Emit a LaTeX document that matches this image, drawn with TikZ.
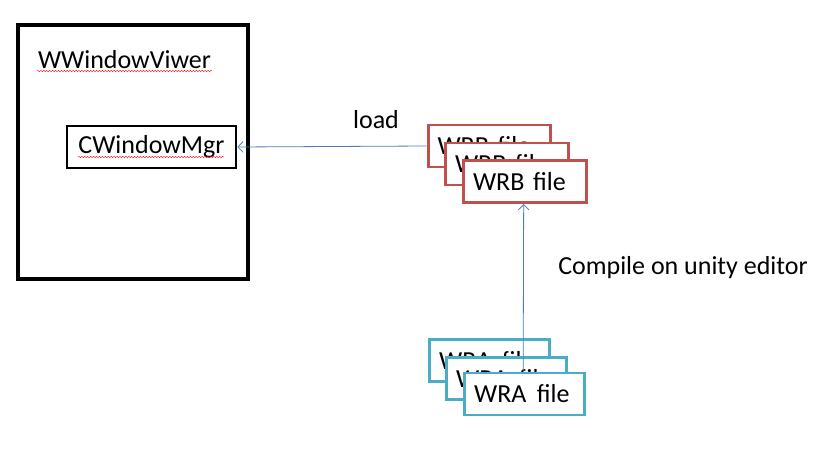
\documentclass[tikz,border=0pt]{standalone}
\usepackage{fontspec}
\setmainfont{Carlito}
\usepackage{tikz}
\usetikzlibrary{arrows.meta,positioning}
\usetikzlibrary{decorations.pathmorphing}

\definecolor{linkblue}{RGB}{74,126,187}
\definecolor{wrbred}{RGB}{192,80,77}
\definecolor{wrateal}{RGB}{75,172,198}

\tikzset{
	labelfont/.style={font=\fontsize{19.5}{22}\selectfont},
	filebox/.style={draw, fill=white, line width=2.2pt, minimum height=31.5pt,
		text width=78pt, inner xsep=7pt, align=left, labelfont},
	wrbbox/.style={filebox, draw=wrbred},
	wrabox/.style={filebox, draw=wrateal},
	link/.style={color=linkblue, line width=0.6pt, -{Straight Barb[length=4pt,width=8pt]}},
	typo/.style={color=red, line width=0.3pt, decorate,
		decoration={snake, amplitude=0.5pt, segment length=2.2pt}}
}

\begin{document}
\begin{tikzpicture}[x=0.75pt, y=-0.75pt]
		\useasboundingbox (0,0) rectangle (823,449);
		
		% viewer
		\node[draw, line width=2.3pt, minimum width=172.5pt, minimum height=190.5pt] (viewer) at (133,152) {};
		\node[labelfont] (viewertitle) at (124.5,60) {WWindowViwer};
		\node[draw, line width=1.9pt, minimum width=126.75pt, minimum height=31.5pt,
			labelfont, inner xsep=0pt] (mgr) at (151.5,147) {CWindowMgr};
		
		\draw[typo] (37,71) -- (212,71);
		\draw[typo] (78,157) -- (224,157);
		
		% WRB files
		\node[wrbbox] (wrbA) at (489.5,146) {WRB file};
		\node[wrbbox] (wrbB) at (507,164) {WRB file};
		\node[wrbbox] (wrbC) at (525,181.5) {WRB file};
		
		% WRA files
		\node[wrabox, text width=75.5pt] (wraA) at (489.5,360.5) {\mbox{WRA\hspace{0.4em}file}};
		\node[wrabox, text width=75.5pt] (wraB) at (506.5,378.5) {\mbox{WRA\hspace{0.4em}file}};
		\node[wrabox, text width=75.5pt] (wraC) at (524.5,394) {\mbox{WRA\hspace{0.4em}file}};
		
		\draw[link] (wrbA.west) -- (mgr.east);
		\draw[link] ([xshift=-1pt]wraC.north) -- ([xshift=-1pt]wrbC.south);
		
		\node[labelfont] (loadlbl) at (376,120) {load};
		\node[labelfont] (compilelbl) at (683,268) {Compile on unity editor};
		
\end{tikzpicture}
\end{document}
